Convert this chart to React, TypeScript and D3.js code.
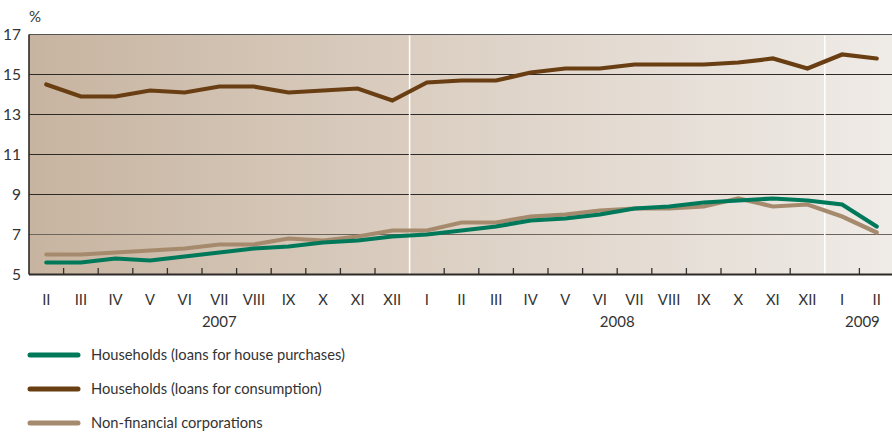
import React from "react";
import * as d3 from "d3";

const months = ["II","III","IV","V","VI","VII","VIII","IX","X","XI","XII","I","II","III","IV","V","VI","VII","VIII","IX","X","XI","XII","I","II"];
const years = [
  { label: "2007", from: 0, to: 10 },
  { label: "2008", from: 11, to: 22 },
  { label: "2009", from: 23, to: 24 },
];
const housePurchases = [5.6,5.6,5.8,5.7,5.9,6.1,6.3,6.4,6.6,6.7,6.9,7.0,7.2,7.4,7.7,7.8,8.0,8.3,8.4,8.6,8.7,8.8,8.7,8.5,7.4];
const consumption = [14.5,13.9,13.9,14.2,14.1,14.4,14.4,14.1,14.2,14.3,13.7,14.6,14.7,14.7,15.1,15.3,15.3,15.5,15.5,15.5,15.6,15.8,15.3,16.0,15.8];
const nonFinancial = [6.0,6.0,6.1,6.2,6.3,6.5,6.5,6.8,6.7,6.9,7.2,7.2,7.6,7.6,7.9,8.0,8.2,8.3,8.3,8.4,8.8,8.4,8.5,7.9,7.1];
const yTicks = [5,7,9,11,13,15,17];
const seriesNames = ["Households (loans for house purchases)", "Households (loans for consumption)", "Non-financial corporations"];
const seriesColors = ["#00795a", "#693e12", "#a68a6d"];

export default function App() {
  const W = 892, H = 432;
  const left = 29, right = 894, top = 34.5, bottom = 274.5;
  const x = d3.scaleBand<number>().domain(months.map((_, i) => i)).range([left, right]);
  const cx = (i: number) => (x(i) as number) + x.bandwidth() / 2;
  const y = d3.scaleLinear().domain([5, 17]).range([bottom, top]);
  const line = d3.line<number>().x((_, i) => cx(i)).y(d => y(d)).curve(d3.curveLinear);
  const series = [nonFinancial, housePurchases, consumption];
  const seriesCol = [seriesColors[2], seriesColors[0], seriesColors[1]];
  const separators = [11, 23];
  const font = "Lato, 'Open Sans', sans-serif";

  return (
    <svg width={W} height={H} style={{ position: "absolute", left: 0, top: 0, display: "block" }} fontFamily={font}>
      <defs>
        <linearGradient id="bg" x1="0" x2="1" y1="0" y2="0">
          <stop offset="0" stopColor="#c7b4a0" />
          <stop offset="0.5" stopColor="#ddd1c5" />
          <stop offset="1" stopColor="#efebe7" />
        </linearGradient>
      </defs>
      <rect x={left} y={top} width={W - left} height={bottom - top} fill="url(#bg)" />
      {yTicks.map(t => (
        <line key={t} x1={left} x2={W} y1={y(t)} y2={y(t)}
          stroke={t === 7 ? "#6e655c" : t === 17 ? "#555" : "#2e2a27"} strokeWidth={t === 5 ? 0 : 1.2} />
      ))}
      {separators.map(i => (
        <line key={i} x1={x(i) as number} x2={x(i) as number} y1={top + 1} y2={bottom} stroke="#ffffff" strokeWidth={1.5} />
      ))}
      {months.map((_, i) => (i > 0 && !separators.includes(i)) ? (
        <line key={i} x1={x(i) as number} x2={x(i) as number} y1={bottom - 6.5} y2={bottom} stroke="#333" strokeWidth={1.3} />
      ) : null)}
      <line x1={left} x2={W} y1={bottom} y2={bottom} stroke="#2e2a27" strokeWidth={1.8} />
      <line x1={left} x2={left} y1={top} y2={bottom} stroke="#2e2a27" strokeWidth={1.6} />
      {series.map((s, k) => (
        <path key={k} d={line(s) as string} fill="none" stroke={seriesCol[k]} strokeWidth={4.2} strokeLinejoin="miter" strokeLinecap="round" />
      ))}
      {yTicks.map(t => (
        <text key={t} x={21} y={y(t)} dy="0.36em" textAnchor="end" fontSize={15.5} fill="#333">{t}</text>
      ))}
      <text x={29} y={17} dy="0.36em" fontSize={15} fill="#333">%</text>
      {months.map((m, i) => (
        <text key={i} x={cx(i)} y={300} dy="0.36em" textAnchor="middle" fontSize={14.8} fill="#333">{m}</text>
      ))}
      {years.map(yr => (
        <text key={yr.label} x={(cx(yr.from) + cx(yr.to)) / 2 + (yr.label === "2009" ? 3 : 0)} y={322} dy="0.36em" textAnchor="middle" fontSize={15} fill="#333">{yr.label}</text>
      ))}
      {seriesNames.map((n, k) => {
        const ly = 355 + k * 34;
        return (
          <g key={n}>
            <line x1={30} x2={78} y1={ly} y2={ly} stroke={seriesColors[k]} strokeWidth={5} strokeLinecap="round" />
            <text x={91} y={ly} dy="0.36em" fontSize={14.7} fill="#333">{n}</text>
          </g>
        );
      })}
    </svg>
  );
}
